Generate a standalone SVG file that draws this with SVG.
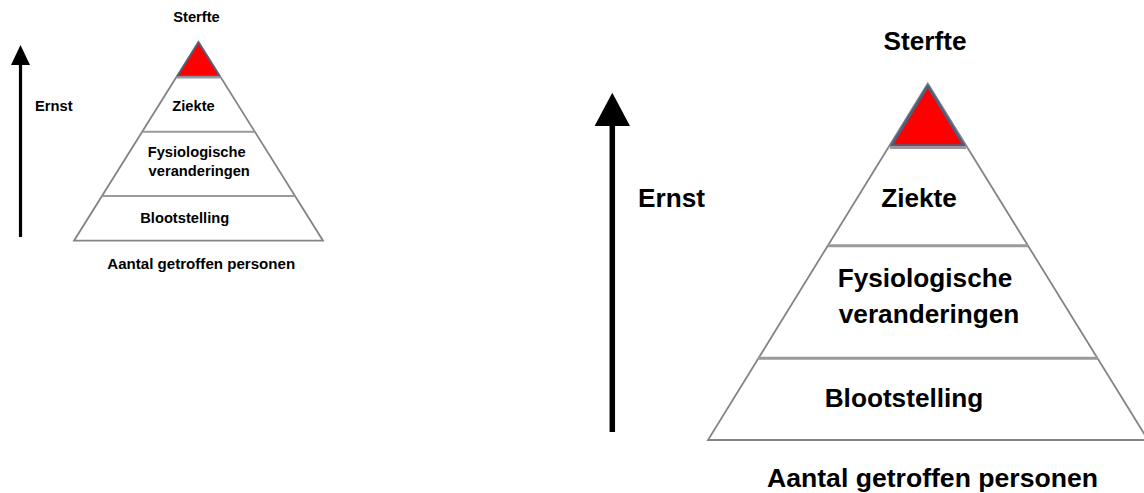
<svg xmlns="http://www.w3.org/2000/svg" width="1144" height="493" viewBox="0 0 1144 493">
<defs>
<style>
.t{font-family:"Liberation Sans",Arial,sans-serif;font-weight:bold;fill:#000;}
.s{font-size:14.7px;}
.l{font-size:26.2px;}
.m{text-anchor:middle;}
.side{fill:#fff;stroke:#858585;stroke-width:1.8;stroke-linejoin:miter;}
.div{stroke:#9a9a9a;fill:none;}
.top{fill:#ff0000;stroke:#4d5f80;stroke-linejoin:round;}
.shaft{stroke:#000;fill:none;}
</style>
</defs>
<rect width="1144" height="493" fill="#fff"/>

<!-- Small diagram -->
<g id="small-pyramid">
<polygon class="side" points="198.5,41.7 323,240.7 74,240.7"/>
</g>
<g id="small-sterfte">
<polygon class="top" stroke-width="1.5" points="198.5,42.5 219.5,76 177.5,76"/>
<text class="t s m" x="196.5" y="21.7">Sterfte</text>
</g>
<g id="small-ziekte">
<text class="t s m" x="193.5" y="111">Ziekte</text>
</g>
<g id="small-fysio">
<text class="t s m" x="196.7" y="156.7">Fysiologische</text>
<text class="t s m" x="199.2" y="175.7">veranderingen</text>
</g>
<g id="small-bloot">
<text class="t s m" x="184.7" y="223.3">Blootstelling</text>
</g>
<g id="small-axis-labels">
<text class="t s" x="35" y="111">Ernst</text>
<text class="t s m" x="201.2" y="269.3" style="font-size:15.1px">Aantal getroffen personen</text>
</g>

<!-- Large diagram -->
<g id="large-pyramid">
<polygon class="side" stroke-width="2.2" points="927.8,83.5 1148,440 708,440"/>
</g>
<g id="large-sterfte">
<polygon class="top" stroke-width="2.5" points="927.8,86 964,145.5 891.5,145.5"/>
<text class="t l m" x="925" y="50">Sterfte</text>
</g>
<g id="large-ziekte">
<text class="t l m" x="919" y="206.7">Ziekte</text>
</g>
<g id="large-fysio">
<text class="t l m" x="925" y="286.7">Fysiologische</text>
<text class="t l m" x="929" y="323">veranderingen</text>
</g>
<g id="large-bloot">
<text class="t l m" x="904" y="406.7">Blootstelling</text>
</g>
<g id="large-axis-labels">
<text class="t l" x="638" y="206.7">Ernst</text>
<text class="t l m" x="932.5" y="486.7" style="font-size:26.6px">Aantal getroffen personen</text>
</g>

<g id="connectors">
<!-- small dividers -->
<line class="div" stroke-width="2" x1="177" y1="77.5" x2="220" y2="77.5"/>
<line class="div" stroke-width="2" x1="143" y1="131.7" x2="255" y2="131.7"/>
<line class="div" stroke-width="2" x1="102" y1="196" x2="295" y2="196"/>
<!-- small arrow -->
<line class="shaft" stroke-width="3.2" x1="20.5" y1="237" x2="20.5" y2="62"/>
<polygon fill="#000" points="20.5,45 30,65 11,65"/>
<!-- large dividers -->
<line class="div" stroke-width="3" x1="890" y1="147.5" x2="966" y2="147.5"/>
<line class="div" stroke-width="3" x1="828" y1="245.7" x2="1028" y2="245.7"/>
<line class="div" stroke-width="3" x1="758" y1="358.3" x2="1098" y2="358.3"/>
<!-- large arrow -->
<line class="shaft" stroke-width="5.5" x1="612.3" y1="432" x2="612.3" y2="122"/>
<polygon fill="#000" points="612.3,92.7 630,126 594.6,126"/>
</g>
</svg>
